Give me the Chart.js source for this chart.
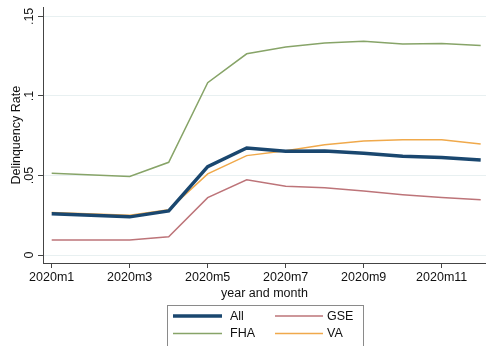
<!DOCTYPE html>
<html>
<head>
<meta charset="utf-8">
<script src="https://cdn.jsdelivr.net/npm/chart.js@4/dist/chart.umd.min.js"></script>
<style>
  html, body { margin: 0; padding: 0; background: #ffffff; }
  #wrap { position: relative; width: 486px; height: 346px; }
</style>
</head>
<body>
<div id="wrap"><canvas id="chart" width="486" height="346"></canvas></div>
<script>
// Monthly delinquency rates, 2020 (month number within the year)
const months = [1, 3, 4, 5, 6, 7, 8, 9, 10, 11, 12];
const allLoans = [0.0260, 0.0240, 0.0277, 0.0556, 0.0673, 0.0652, 0.0654, 0.0640, 0.0621, 0.0613, 0.0598];
const gseLoans = [0.0094, 0.0094, 0.0115, 0.0361, 0.0473, 0.0433, 0.0423, 0.0402, 0.0379, 0.0361, 0.0348];
const fhaLoans = [0.0514, 0.0494, 0.0583, 0.1083, 0.1265, 0.1308, 0.1333, 0.1344, 0.1327, 0.1329, 0.1317];
const vaLoans  = [0.0267, 0.0250, 0.0285, 0.0510, 0.0625, 0.0656, 0.0694, 0.0717, 0.0725, 0.0725, 0.0698];

const xTickValues = [1, 3, 5, 7, 9, 11];
const xTickLabels = ['2020m1', '2020m3', '2020m5', '2020m7', '2020m9', '2020m11'];
const yTickValues = [0, 0.05, 0.1, 0.15];
const yTickLabels = ['0', '.05', '.1', '.15'];

const FONT = 'Liberation Sans, Arial, Helvetica, sans-serif';
const toPoints = vals => months.map((m, i) => ({ x: m, y: vals[i] }));

const series = [
  { label: 'All', values: allLoans, color: '#1a476f', width: 3.5 },
  { label: 'GSE', values: gseLoans, color: '#bd7479', width: 1.5 },
  { label: 'FHA', values: fhaLoans, color: '#87a468', width: 1.5 },
  { label: 'VA',  values: vaLoans,  color: '#f0a94b', width: 1.5 }
];

// Two-column framed legend under the axis title
const boxedLegend = {
  id: 'boxedLegend',
  afterDraw(chart) {
    const ctx = chart.ctx;
    const left = 167.5, top = 305.5, right = 363.5, bottom = 360;
    ctx.save();
    ctx.strokeStyle = '#8a8a8a';
    ctx.lineWidth = 1;
    ctx.strokeRect(left, top, right - left, bottom - top);
    const cols = [{ x0: 173, x1: 222, tx: 230 }, { x0: 275, x1: 323, tx: 327 }];
    const rows = [316, 333.5];
    ctx.font = '12.5px ' + FONT;
    ctx.textBaseline = 'middle';
    ctx.textAlign = 'left';
    chart.data.datasets.forEach((ds, i) => {
      const c = cols[i % 2], y = rows[Math.floor(i / 2)];
      ctx.strokeStyle = ds.borderColor;
      ctx.lineWidth = ds.borderWidth;
      ctx.beginPath();
      ctx.moveTo(c.x0, y);
      ctx.lineTo(c.x1, y);
      ctx.stroke();
      ctx.fillStyle = '#111';
      ctx.fillText(ds.label, c.tx, y + 0.5);
    });
    ctx.restore();
  }
};

new Chart(document.getElementById('chart'), {
  type: 'line',
  data: {
    datasets: series.map(s => ({
      label: s.label,
      data: toPoints(s.values),
      borderColor: s.color,
      backgroundColor: s.color,
      borderWidth: s.width,
      pointRadius: 0,
      tension: 0,
      fill: false
    }))
  },
  options: {
    responsive: false,
    animation: false,
    devicePixelRatio: 1,
    layout: { padding: { top: 6, right: 0, bottom: 43, left: 0 } },
    plugins: {
      legend: { display: false },
      tooltip: { enabled: false }
    },
    scales: {
      x: {
        type: 'linear',
        min: 0.777,
        max: 12.136,
        afterBuildTicks: scale => { scale.ticks = xTickValues.map(v => ({ value: v })); },
        afterFit: scale => { scale.height = 40; },
        ticks: {
          autoSkip: false,
          maxRotation: 0,
          padding: 2,
          color: '#111',
          font: { family: FONT, size: 12.5 },
          callback: v => xTickLabels[xTickValues.indexOf(v)]
        },
        grid: { drawOnChartArea: false, drawTicks: true, tickLength: 5, tickColor: '#444', color: '#444' },
        border: { display: true, color: '#444', width: 1 },
        title: {
          display: true,
          text: 'year and month',
          color: '#111',
          font: { family: FONT, size: 12.5 },
          padding: { top: 0, bottom: 2 }
        }
      },
      y: {
        type: 'linear',
        min: -0.005,
        max: 0.1556,
        afterBuildTicks: scale => { scale.ticks = yTickValues.map(v => ({ value: v })); },
        afterFit: scale => { scale.width = 43; },
        ticks: {
          minRotation: 90,
          maxRotation: 90,
          crossAlign: 'center',
          padding: 0,
          color: '#111',
          font: { family: FONT, size: 12.5 },
          callback: v => yTickLabels[yTickValues.indexOf(v)]
        },
        grid: { color: '#e8f0f1', lineWidth: 1, drawTicks: true, tickLength: 5, tickColor: '#444' },
        border: { display: true, color: '#444', width: 1 },
        title: {
          display: true,
          text: 'Delinquency Rate',
          color: '#111',
          font: { family: FONT, size: 12.5 },
          padding: { top: 9.5, bottom: 0 }
        }
      }
    }
  },
  plugins: [boxedLegend]
});
</script>
</body>
</html>
